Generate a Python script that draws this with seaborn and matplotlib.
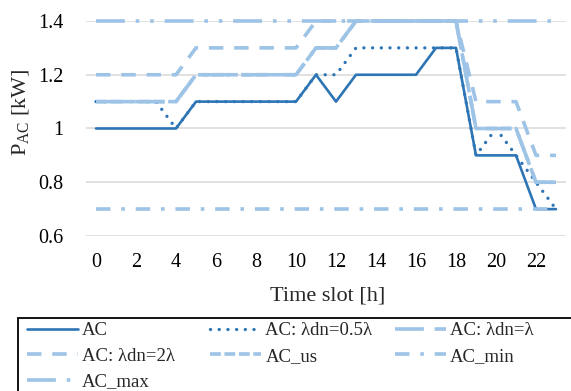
import numpy as np
import pandas as pd
import matplotlib
matplotlib.use("Agg")
import matplotlib.pyplot as plt
from matplotlib.patches import Rectangle
import seaborn as sns

hours = list(range(24))
ac = [1.0, 1.0, 1.0, 1.0, 1.0, 1.1, 1.1, 1.1, 1.1, 1.1, 1.1, 1.2,
      1.1, 1.2, 1.2, 1.2, 1.2, 1.3, 1.3, 0.9, 0.9, 0.9, 0.7, 0.7]
ac_half = [1.1, 1.1, 1.1, 1.1, 1.0, 1.1, 1.1, 1.1, 1.1, 1.1, 1.1, 1.2,
           1.2, 1.3, 1.3, 1.3, 1.3, 1.3, 1.3, 0.9, 1.0, 0.9, 0.8, 0.7]
ac_one = [1.1, 1.1, 1.1, 1.1, 1.1, 1.2, 1.2, 1.2, 1.2, 1.2, 1.2, 1.3,
          1.3, 1.4, 1.4, 1.4, 1.4, 1.4, 1.4, 1.0, 1.0, 1.0, 0.8, 0.8]
ac_two = [1.2, 1.2, 1.2, 1.2, 1.2, 1.3, 1.3, 1.3, 1.3, 1.3, 1.3, 1.4,
          1.4, 1.4, 1.4, 1.4, 1.4, 1.4, 1.4, 1.1, 1.1, 1.1, 0.9, 0.9]
ac_us = [1.1, 1.1, 1.1, 1.1, 1.1, 1.2, 1.2, 1.2, 1.2, 1.2, 1.2, 1.3,
         1.3, 1.4, 1.4, 1.4, 1.4, 1.4, 1.4, 1.0, 1.0, 1.0, 0.8, 0.8]
ac_min = [0.7] * 24
ac_max = [1.4] * 24
labels = ["AC", "AC: λdn=0.5λ", "AC: λdn=λ", "AC: λdn=2λ", "AC_us", "AC_min", "AC_max"]
x_ticks = list(range(0, 23, 2))
y_ticks = [0.6, 0.8, 1.0, 1.2, 1.4]

sns.set_theme(style="white")
plt.rcParams["font.family"] = ["Liberation Serif", "DejaVu Serif"]
plt.rcParams["mathtext.default"] = "regular"

dark = "#2E75B6"
light = "#9DC3E6"
lw_l = 2.6
styles = [
    dict(color=dark, lw=1.9, linestyle="-"),
    dict(color=dark, lw=2.4, linestyle=(0, (0.01, 2.6)), dash_capstyle="round"),
    dict(color=light, lw=lw_l, linestyle=(0, (8, 3))),
    dict(color=light, lw=lw_l, linestyle=(0, (4, 3))),
    dict(color=light, lw=lw_l, linestyle=(0, (3, 1))),
    dict(color=light, lw=lw_l, linestyle=(0, (4, 3, 1, 3))),
    dict(color=light, lw=lw_l, linestyle=(0, (8, 3, 1, 3, 1, 3))),
]
series = [ac, ac_half, ac_one, ac_two, ac_us, ac_min, ac_max]

W, H = 571, 391
fig = plt.figure(figsize=(W / 100, H / 100), dpi=100)
ax = fig.add_axes([86 / W, 1 - 236 / H, 480 / W, 215 / H])

for vals, lab, st in zip(series, labels, styles):
    sns.lineplot(x=hours, y=vals, ax=ax, label=lab, clip_on=False, **st)

ax.set_xlim(-0.5, 23.5)
ax.set_ylim(0.6, 1.4)
ax.set_xticks(x_ticks)
ax.set_yticks(y_ticks)
ax.set_yticklabels([f"{v:g}" for v in y_ticks])
ax.tick_params(axis="both", labelsize=14.5, length=0, colors="#000000")
ax.tick_params(axis="x", pad=12)
ax.tick_params(axis="y", pad=16)
ax.grid(axis="y", color="#D9D9D9", lw=1.1)
ax.grid(axis="x", visible=False)
ax.set_axisbelow(True)
for s in ax.spines.values():
    s.set_visible(False)
ax.set_xlabel("")
ax.set_ylabel("")

fig.text(328 / W, 1 - 296 / H, "Time slot [h]", ha="center", va="center", fontsize=16)
fig.text(21 / W, 1 - 112 / H, "P$_{AC}$ [kW]", ha="center", va="center",
         rotation=90, fontsize=16)

handles, labs = ax.get_legend_handles_labels()
if ax.get_legend():
    ax.get_legend().remove()

# legend frame (extends past the right/bottom edge like the reference)
fig.patches.append(Rectangle((18 / W, -0.05), (W + 10) / W, 1 - 318 / H + 0.05,
                             transform=fig.transFigure, fill=False,
                             edgecolor="#000000", lw=1.3, zorder=5))

cols = [([0, 3, 6], 27), ([1, 4], 210), ([2, 5], 395)]
for idx, x0 in cols:
    lg = fig.legend([handles[i] for i in idx], [labs[i] for i in idx],
                    loc="upper left", bbox_to_anchor=(x0 / W, 1 - 322 / H),
                    ncol=1, fontsize=13.5, frameon=False,
                    handlelength=2.7, handletextpad=0.25, labelspacing=0.46,
                    borderpad=0, borderaxespad=0)

fig.savefig("out.png", dpi=100)
